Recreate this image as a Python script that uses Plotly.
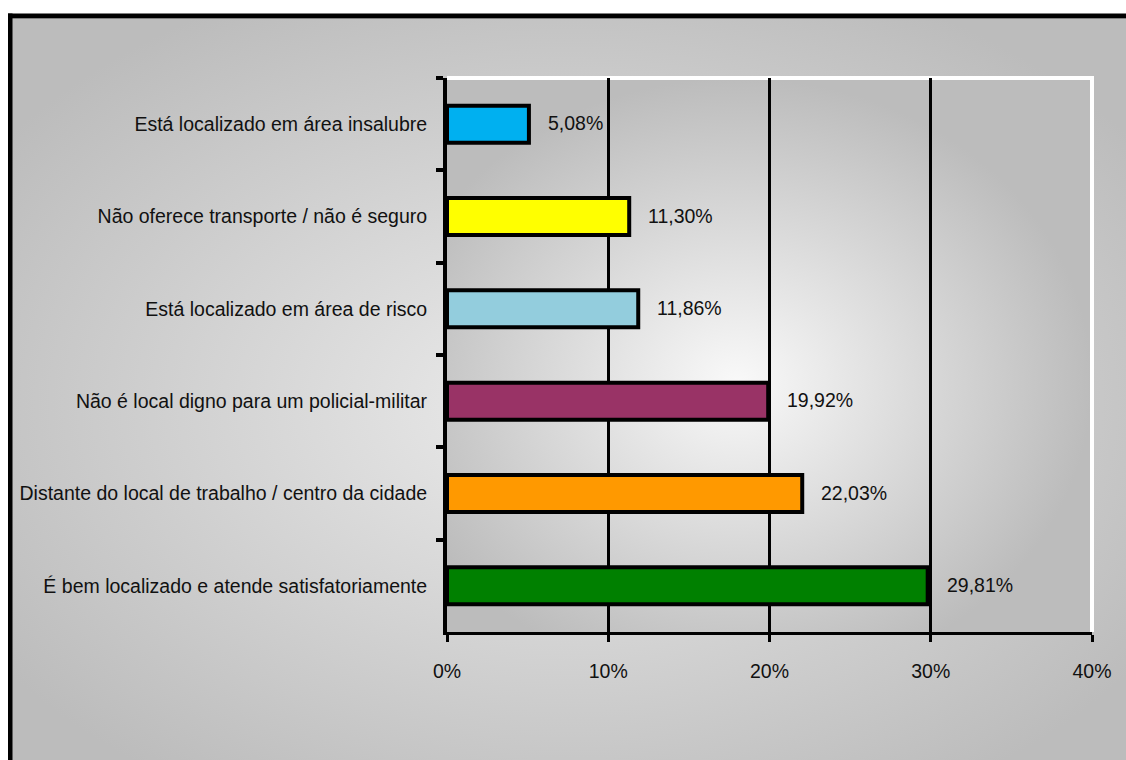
import base64
import plotly.graph_objects as go

# Survey answers (top to bottom) and their shares in percent
categories = [
    "Está localizado em área insalubre",
    "Não oferece transporte / não é seguro",
    "Está localizado em área de risco",
    "Não é local digno para um policial-militar",
    "Distante do local de trabalho / centro da cidade",
    "É bem localizado e atende satisfatoriamente",
]
values = [5.08, 11.30, 11.86, 19.92, 22.03, 29.81]
value_labels = ["5,08%", "11,30%", "11,86%", "19,92%", "22,03%", "29,81%"]
bar_colors = ["#00b0f0", "#ffff00", "#93cddd", "#993366", "#ff9900", "#008000"]
x_ticks = [0, 10, 20, 30, 40]
x_tick_text = ["0%", "10%", "20%", "30%", "40%"]

W, H = 1126, 760
L, R, T, B = 447, 1092, 78, 632   # plot area in pixels


def fx(px):
    return (px - L) / (R - L)


def fy(py):
    return (B - py) / (B - T)


def radial_svg(w, h, cx, cy, r, inner, outer):
    svg = (
        f'<svg xmlns="http://www.w3.org/2000/svg" width="{w}" height="{h}" '
        f'viewBox="0 0 {w} {h}" preserveAspectRatio="none">'
        f'<defs><radialGradient id="g" cx="{cx}" cy="{cy}" r="{r}">'
        f'<stop offset="0" stop-color="{inner}"/>'
        f'<stop offset="1" stop-color="{outer}"/>'
        f'</radialGradient></defs>'
        f'<rect x="0" y="0" width="{w}" height="{h}" fill="url(#g)"/></svg>'
    )
    return "data:image/svg+xml;base64," + base64.b64encode(svg.encode()).decode()


font_family = "Liberation Sans, Arial, sans-serif"

fig = go.Figure(
    go.Bar(
        x=values,
        y=categories,
        orientation="h",
        width=0.40,
        marker=dict(color=bar_colors, line=dict(color="black", width=4)),
        hoverinfo="skip",
    )
)

# value labels to the right of each bar
for cat, v, txt in zip(categories, values, value_labels):
    fig.add_annotation(
        x=v, y=cat, xref="x", yref="y", text=txt, showarrow=False,
        xanchor="left", yanchor="middle", xshift=17, yshift=1,
        font=dict(family=font_family, size=19.5, color="#111111"),
    )

images = [
    # chart background
    dict(source=radial_svg(W - 12, H - 19, 0.5, 0.52, 0.62, "#ececec", "#bcbcbc"),
         xref="paper", yref="paper", x=fx(12), y=fy(19),
         sizex=fx(W) - fx(12), sizey=fy(19) - fy(H),
         xanchor="left", yanchor="top", sizing="stretch", layer="below"),
    # plot area background
    dict(source=radial_svg(R - L, B - T, 0.45, 0.55, 0.55, "#f9f9f9", "#bcbcbc"),
         xref="paper", yref="paper", x=0, y=1, sizex=1, sizey=1,
         xanchor="left", yanchor="top", sizing="stretch", layer="below"),
]

shapes = [
    # outer frame (top and left edges)
    dict(type="rect", xref="paper", yref="paper", x0=fx(8), x1=fx(W + 5),
         y0=fy(18.5), y1=fy(13.5), fillcolor="black", line_width=0, layer="above"),
    dict(type="rect", xref="paper", yref="paper", x0=fx(8), x1=fx(12.5),
         y0=fy(H + 5), y1=fy(13.5), fillcolor="black", line_width=0, layer="above"),
    # white plot border top and right
    dict(type="line", xref="paper", yref="paper", x0=fx(L), x1=fx(R + 2),
         y0=fy(T), y1=fy(T), line=dict(color="white", width=4), layer="below"),
    dict(type="line", xref="paper", yref="paper", x0=1, x1=1,
         y0=fy(T), y1=0, line=dict(color="white", width=4), layer="below"),
]

fig.update_layout(
    width=W, height=H,
    margin=dict(l=L, r=W - R, t=T, b=H - B, pad=0, autoexpand=False),
    paper_bgcolor="white",
    plot_bgcolor="rgba(0,0,0,0)",
    showlegend=False,
    images=images,
    shapes=shapes,
    font=dict(family=font_family, size=19.5, color="#111111"),
    bargap=0.6,
)

fig.update_xaxes(
    range=[0, 40], tickmode="array", tickvals=x_ticks, ticktext=x_tick_text,
    showgrid=True, gridcolor="black", gridwidth=3,
    showline=True, linecolor="black", linewidth=3,
    ticks="outside", ticklen=7, tickwidth=3, tickcolor="black",
    ticklabelstandoff=13, zeroline=False, automargin=False,
    tickfont=dict(family=font_family, size=19.5, color="#111111"),
    fixedrange=True,
)
fig.update_yaxes(
    type="category", range=[5.5, -0.5], tickson="boundaries",
    showgrid=False, showline=True, linecolor="black", linewidth=4,
    ticks="outside", ticklen=7, tickwidth=4, tickcolor="black",
    ticklabelstandoff=12, automargin=False,
    tickfont=dict(family=font_family, size=19.5, color="#111111"),
    fixedrange=True,
)

fig.write_html("out.html")
